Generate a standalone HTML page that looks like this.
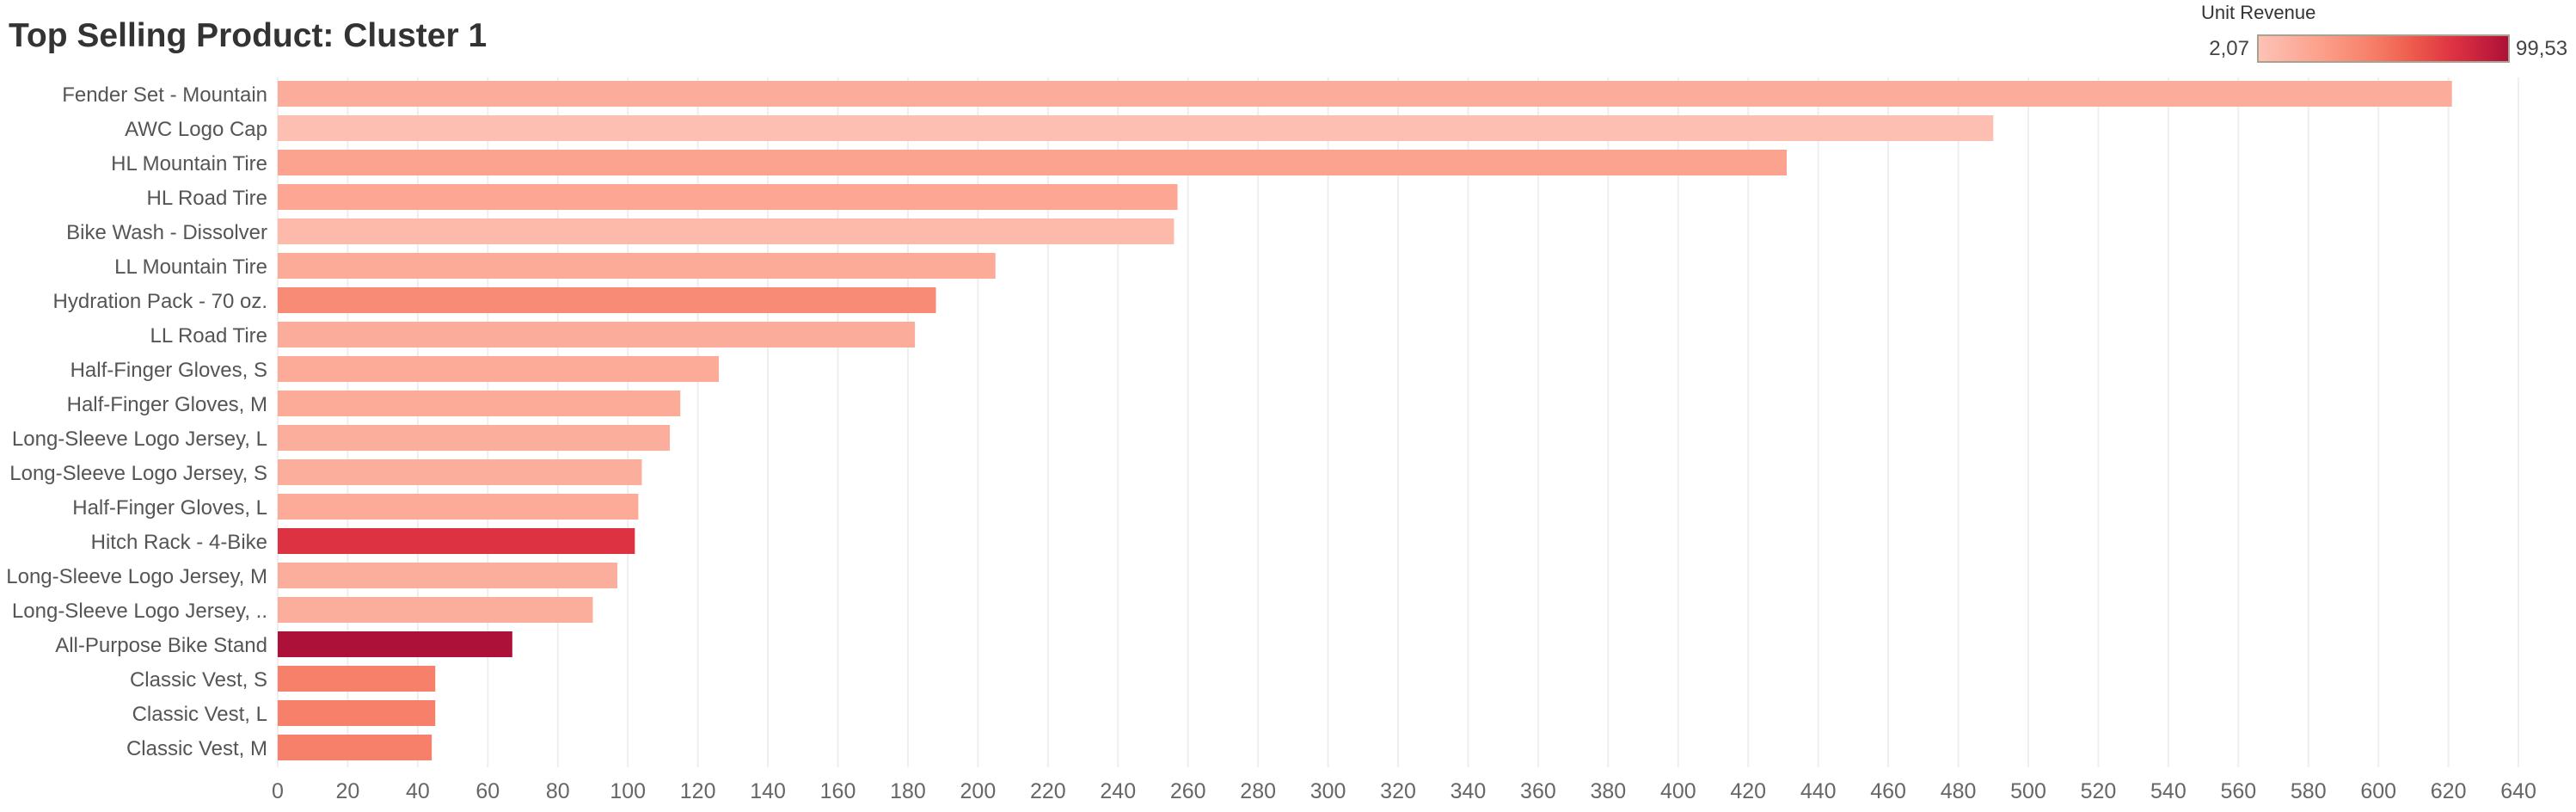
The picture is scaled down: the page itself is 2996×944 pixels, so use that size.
<!DOCTYPE html>
<html><head><meta charset="utf-8"><style>
html,body{margin:0;padding:0;background:#fff;}
body{width:2996px;height:944px;overflow:hidden;position:relative;font-family:"Liberation Sans",sans-serif;}
svg{position:absolute;left:0;top:0;}
</style></head><body>
<svg id="chart" width="2996" height="944" xmlns="http://www.w3.org/2000/svg">
<text x="10" y="54" font-size="39" font-weight="bold" fill="#333">Top Selling Product: Cluster 1</text>
<g id="grid"></g>
<g id="bars"></g>
<g id="ylabels"></g>
<g id="xlabels"></g>
<g>
<defs><linearGradient id="grad" x1="0" x2="1" y1="0" y2="0">
<stop offset="0" stop-color="#fdc3b6"/><stop offset="0.25" stop-color="#fca08b"/><stop offset="0.45" stop-color="#f6806a"/><stop offset="0.6" stop-color="#ef5f4e"/><stop offset="0.78" stop-color="#dd3242"/><stop offset="1" stop-color="#ad1038"/></linearGradient></defs>
<text x="2560" y="22" font-size="22" fill="#333">Unit Revenue</text>
<rect x="2626" y="41" width="292" height="31" fill="url(#grad)" stroke="#a8a293" stroke-width="2"/>
<text x="2616" y="64" font-size="24" fill="#444" text-anchor="end">2,07</text>
<text x="2926" y="64" font-size="24" fill="#444">99,53</text>
</g>
</svg>
<script>
const categories=["Fender Set - Mountain","AWC Logo Cap","HL Mountain Tire","HL Road Tire","Bike Wash - Dissolver","LL Mountain Tire","Hydration Pack - 70 oz.","LL Road Tire","Half-Finger Gloves, S","Half-Finger Gloves, M","Long-Sleeve Logo Jersey, L","Long-Sleeve Logo Jersey, S","Half-Finger Gloves, L","Hitch Rack - 4-Bike","Long-Sleeve Logo Jersey, M","Long-Sleeve Logo Jersey, ..","All-Purpose Bike Stand","Classic Vest, S","Classic Vest, L","Classic Vest, M"];
const quantities=[621,490,431,257,256,205,188,182,126,115,112,104,103,102,97,90,67,45,45,44];
const unitRevenue=[18,5,24,22,9,19,39,18,19,19,17,17,19,78,17,17,99.5,46,46,46];
const xTicks=[0,20,40,60,80,100,120,140,160,180,200,220,240,260,280,300,320,340,360,380,400,420,440,460,480,500,520,540,560,580,600,620,640];
const colorMin=2.07,colorMax=99.53;
const NS="http://www.w3.org/2000/svg";
const x0=323,pxPer=4.072,rowTop=109,rowStep=40,barH=30;
const xs=v=>x0+v*pxPer;
const yc=i=>rowTop+i*rowStep;
const stops=[[0,[253,195,182]],[0.25,[252,160,139]],[0.45,[246,128,106]],[0.6,[239,95,78]],[0.78,[221,50,66]],[1,[173,16,56]]];
function color(v){let t=(v-colorMin)/(colorMax-colorMin);t=Math.max(0,Math.min(1,t));
for(let i=1;i<stops.length;i++){if(t<=stops[i][0]){const a=stops[i-1],b=stops[i];const f=(t-a[0])/(b[0]-a[0]);
return "rgb("+a[1].map((c,k)=>Math.round(c+(b[1][k]-c)*f)).join(",")+")";}}return "rgb(173,16,56)";}
const grid=document.getElementById('grid'),bars=document.getElementById('bars'),yl=document.getElementById('ylabels'),xl=document.getElementById('xlabels');
xTicks.forEach(t=>{
const l=document.createElementNS(NS,'line');
l.setAttribute('x1',xs(t));l.setAttribute('x2',xs(t));l.setAttribute('y1',90);l.setAttribute('y2',892);
l.setAttribute('stroke','#eeeeee');l.setAttribute('stroke-width','2');


grid.appendChild(l);
const tx=document.createElementNS(NS,'text');
tx.setAttribute('x',xs(t));tx.setAttribute('y',928);tx.setAttribute('text-anchor','middle');
tx.setAttribute('font-size','25');tx.setAttribute('fill','#666');tx.textContent=t;


xl.appendChild(tx);
});
categories.forEach((c,i)=>{
const r=document.createElementNS(NS,'rect');
r.setAttribute('x',xs(0));r.setAttribute('y',yc(i)-barH/2);r.setAttribute('width',xs(quantities[i])-xs(0));r.setAttribute('height',barH);
r.setAttribute('fill',color(unitRevenue[i]));


bars.appendChild(r);
const t=document.createElementNS(NS,'text');
t.setAttribute('x',311);t.setAttribute('y',yc(i)+9);t.setAttribute('text-anchor','end');
t.setAttribute('font-size','24');t.setAttribute('fill','#555');t.textContent=c;


yl.appendChild(t);
});
</script>
</body></html>
